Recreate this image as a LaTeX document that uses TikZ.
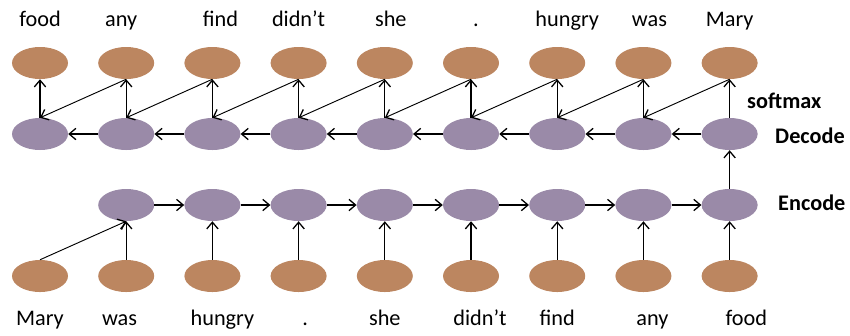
\documentclass[tikz,border=0pt]{standalone}
\usepackage{fontspec}
\setmainfont{Carlito}
\usetikzlibrary{shapes.geometric, arrows.meta}
\usetikzlibrary{positioning}
\definecolor{wordOrange}{RGB}{188,134,96}
\definecolor{stateViolet}{RGB}{154,138,168}
\tikzstyle{wordNode} = [ellipse, minimum width = 1.68cm, minimum height = 0.96cm, inner sep = 0pt, fill=wordOrange]
\tikzstyle{stateNode} = [ellipse, minimum width = 1.68cm, minimum height = 0.96cm, inner sep = 0pt, fill=stateViolet]
\tikzstyle{arrow} = [line width = 1.1pt, -{Straight Barb[length=2mm, width=3.4mm]}]
\tikzstyle{thinArrow} = [line width = 0.8pt, -{Straight Barb[length=2mm, width=3.4mm, line width=1.1pt]}]
\tikzstyle{stage} = [anchor=base west, inner sep = 0pt, font=\fontsize{19}{22}\selectfont\bfseries]
\tikzset{every label/.style={inner sep = 0pt, text height = 13pt, text depth = 5pt, font=\fontsize{19}{22}\selectfont}}

\begin{document}
\begin{tikzpicture}[x = 0.03cm, y = -0.03cm, on grid, node distance = 2.13cm and 2.586cm]
    \useasboundingbox (0,0) rectangle (850,335);
    % output words
    \node (o_1) [wordNode, label={[label distance=12pt]above:food}] at (40,63) {};
    \node (o_2) [wordNode, label={[label distance=12pt, xshift=-0.15cm]above:any}, right = of o_1] {};
    \node (o_3) [wordNode, label={[label distance=12pt, xshift=0.24cm]above:find}, right = of o_2] {};
    \node (o_4) [wordNode, label={[label distance=12pt]above:didn’t}, right = of o_3] {};
    \node (o_5) [wordNode, label={[label distance=12pt, xshift=0.18cm]above:she}, right = of o_4] {};
    \node (o_6) [wordNode, label={[label distance=12pt, xshift=0.15cm]above:.}, right = of o_5] {};
    \node (o_7) [wordNode, label={[label distance=12pt, xshift=0.3cm]above:hungry}, right = of o_6] {};
    \node (o_8) [wordNode, label={[label distance=12pt, xshift=0.18cm]above:was}, right = of o_7] {};
    \node (o_9) [wordNode, label={[label distance=12pt]above:Mary}, right = of o_8] {};
    % decoder
    \node (d_1) [stateNode, below = of o_1] {};
    \node (d_2) [stateNode, below = of o_2] {};
    \node (d_3) [stateNode, below = of o_3] {};
    \node (d_4) [stateNode, below = of o_4] {};
    \node (d_5) [stateNode, below = of o_5] {};
    \node (d_6) [stateNode, below = of o_6] {};
    \node (d_7) [stateNode, below = of o_7] {};
    \node (d_8) [stateNode, below = of o_8] {};
    \node (d_9) [stateNode, below = of o_9] {};
    % encoder
    \node (e_2) [stateNode, below = of d_2] {};
    \node (e_3) [stateNode, below = of d_3] {};
    \node (e_4) [stateNode, below = of d_4] {};
    \node (e_5) [stateNode, below = of d_5] {};
    \node (e_6) [stateNode, below = of d_6] {};
    \node (e_7) [stateNode, below = of d_7] {};
    \node (e_8) [stateNode, below = of d_8] {};
    \node (e_9) [stateNode, below = of d_9] {};
    % input words
    \node (x_2) [wordNode, label={[label distance=15pt, xshift=-0.2cm]below:was}, below = of e_2] {};
    \node (x_1) [wordNode, label={[label distance=15pt]below:Mary}, left = of x_2] {};
    \node (x_3) [wordNode, label={[label distance=15pt, xshift=0.3cm]below:hungry}, below = of e_3] {};
    \node (x_4) [wordNode, label={[label distance=15pt, xshift=0.2cm]below:.}, below = of e_4] {};
    \node (x_5) [wordNode, label={[label distance=15pt]below:she}, below = of e_5] {};
    \node (x_6) [wordNode, label={[label distance=15pt, xshift=0.27cm]below:didn’t}, below = of e_6] {};
    \node (x_7) [wordNode, label={[label distance=15pt]below:find}, below = of e_7] {};
    \node (x_8) [wordNode, label={[label distance=15pt, xshift=0.27cm]below:any}, below = of e_8] {};
    \node (x_9) [wordNode, label={[label distance=15pt, xshift=0.5cm]below:food}, below = of e_9] {};
    % stage names
    \node (softmax) [stage] at (747,108) {softmax};
    \node (decode) [stage] at (775,143) {Decode};
    \node (encode) [stage] at (778,210) {Encode};
    % decoder arrows
    \draw [arrow] (d_2) -- (d_1);
    \draw [arrow] (d_3) -- (d_2);
    \draw [arrow] (d_4) -- (d_3);
    \draw [arrow] (d_5) -- (d_4);
    \draw [arrow] (d_6) -- (d_5);
    \draw [arrow] (d_7) -- (d_6);
    \draw [arrow] (d_8) -- (d_7);
    \draw [arrow] (d_9) -- (d_8);
    \draw [arrow] (d_1.north) -- (o_1.south);
    \draw [arrow] (d_2.north) -- (o_2.south);
    \draw [arrow] (d_3.north) -- (o_3.south);
    \draw [arrow] (d_4.north) -- (o_4.south);
    \draw [arrow] (d_5.north) -- (o_5.south);
    \draw [arrow] (d_6.north) -- (o_6.south);
    \draw [arrow] (d_7.north) -- (o_7.south);
    \draw [arrow] (d_8.north) -- (o_8.south);
    \draw [arrow] (d_9.north) -- (o_9.south);
    \draw [thinArrow] (o_2.south) -- (d_1.north);
    \draw [thinArrow] (o_3.south) -- (d_2.north);
    \draw [thinArrow] (o_4.south) -- (d_3.north);
    \draw [thinArrow] (o_5.south) -- (d_4.north);
    \draw [thinArrow] (o_6.south) -- (d_5.north);
    \draw [thinArrow] (o_7.south) -- (d_6.north);
    \draw [thinArrow] (o_8.south) -- (d_7.north);
    \draw [thinArrow] (o_9.south) -- (d_8.north);
    \draw [arrow] (e_9.north) -- (d_9.south);
    % encoder arrows
    \draw [arrow] (e_2) -- (e_3);
    \draw [arrow] (e_3) -- (e_4);
    \draw [arrow] (e_4) -- (e_5);
    \draw [arrow] (e_5) -- (e_6);
    \draw [arrow] (e_6) -- (e_7);
    \draw [arrow] (e_7) -- (e_8);
    \draw [arrow] (e_8) -- (e_9);
    \draw [thinArrow] (x_1.north) -- (e_2.south);
    \draw [arrow] (x_2.north) -- (e_2.south);
    \draw [arrow] (x_3.north) -- (e_3.south);
    \draw [arrow] (x_4.north) -- (e_4.south);
    \draw [arrow] (x_5.north) -- (e_5.south);
    \draw [arrow] (x_6.north) -- (e_6.south);
    \draw [arrow] (x_7.north) -- (e_7.south);
    \draw [arrow] (x_8.north) -- (e_8.south);
    \draw [arrow] (x_9.north) -- (e_9.south);
\end{tikzpicture}
\end{document}
